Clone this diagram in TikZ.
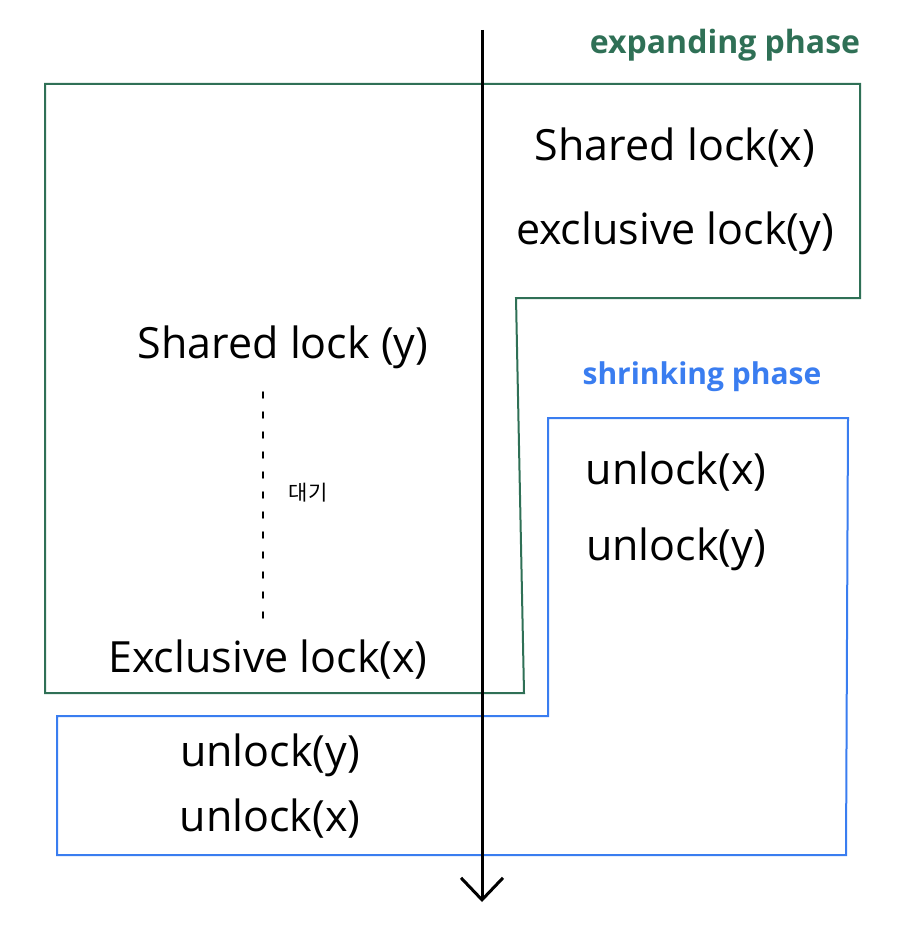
\documentclass[tikz,border=0pt]{standalone}
\usepackage{fontspec}
\setmainfont{Open Sans}
\newfontfamily\krfont{Noto Sans CJK KR}
\usetikzlibrary{arrows.meta,positioning}
\definecolor{expgreen}{RGB}{47,112,86}
\definecolor{shrblue}{RGB}{58,125,240}

\begin{document}
\begin{tikzpicture}[
    x=1pt, y=-1pt,
    node distance=34pt,
    op/.style={font=\fontsize{43}{48}\selectfont, inner sep=0pt},
    phase/.style={font=\fontsize{32}{36}\selectfont\bfseries, inner sep=0pt},
    timeline/.style={line width=3pt, -{Straight Barb[length=22pt, width=42pt, line width=3pt]}}
]
\useasboundingbox (0,0) rectangle (908,944);

% expanding phase region
\draw[expgreen, line width=2pt] (45,84) -- (860,84) -- (860,298) -- (516,298)
    -- (524,693) -- (45,693) -- cycle;
% shrinking phase region
\draw[shrblue, line width=2pt] (548,418) -- (848,418) -- (846,855) -- (57,855)
    -- (57,716) -- (548,716) -- cycle;

% time axis
\coordinate (ttop) at (482,30);
\coordinate (tbot) at (482,902);
\draw[timeline] (ttop) -- (tbot);

% phase titles
\node[phase, text=expgreen] (expand) at (725,45) {expanding phase};
\node[phase, text=shrblue, font=\fontsize{30}{34}\selectfont\bfseries] (shrink) at (702,377) {shrinking phase};

% transaction 1
\node[op] (slx) at (675,148) {Shared lock(x)};
\node[op, below=44pt of slx] (xly) {exclusive lock(y)};
\node[op] (ulx1) at (676,472) {unlock(x)};
\node[op, below=36pt of ulx1] (uly1) {unlock(y)};

% transaction 2
\node[op] (sly) at (283,347) {Shared lock (y)};
\node[op] (xlx) at (268,660) {Exclusive lock(x)};
\coordinate (waittop) at (263,392);
\coordinate (waitbot) at (263,625);
\draw[line width=1.6pt, dash pattern=on 6pt off 14pt, line cap=round] (waittop) -- (waitbot);
\node[font=\krfont\fontsize{21}{24}\selectfont] (wait) at (308,493) {대기};
\node[op] (uly2) at (270,755) {unlock(y)};
\node[op, below=22pt of uly2] (ulx2) {unlock(x)};
\end{tikzpicture}
\end{document}
